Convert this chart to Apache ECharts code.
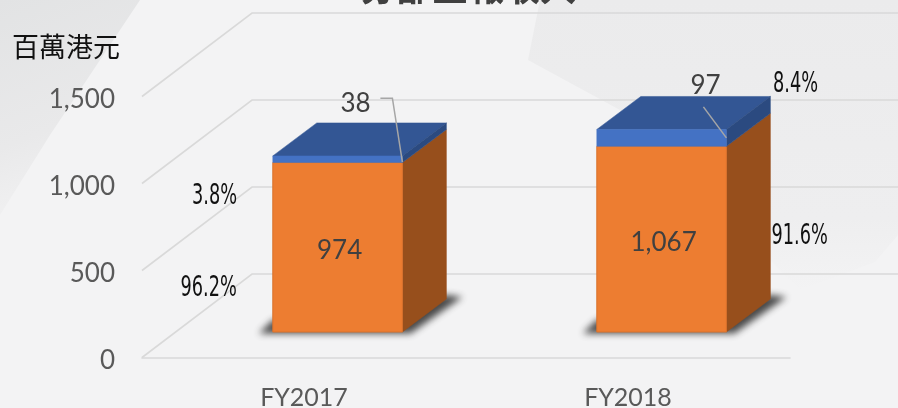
<!DOCTYPE html>
<html>
<head>
<meta charset="utf-8">
<title>分部呈報收入</title>
<style>
    html,body{margin:0;padding:0;background:#f3f3f4;}
    #main{width:898px;height:408px;overflow:hidden;}
</style>
<script src="https://cdn.jsdelivr.net/npm/echarts@6/dist/echarts.min.js"></script>
</head>
<body>
<div id="main"></div>
<script>
var categories = ['FY2017','FY2018'];
var lowerValues = [974,1067];
var upperValues = [38,97];
var lowerShares = ['96.2%','91.6%'];
var upperShares = ['3.8%','8.4%'];
var gridTicks = [0,500,1000,1500];

// label placement, relative to the face it belongs to
var lowerShareOffset = [[-129,41],[138,-3]];
var upperShareOffset = [[-123,37],[134,-53]];
var upperValueOffset = [[-47,-56],[-21,-52]];
var leaderOffset = [[[-22,-61],[-10,-61],[0,3]],[[-23,-31],[0,0]]];

(function(){
    var myChart = echarts.init(document.getElementById('main'));

    var numFont = 'Lato, "Open Sans", sans-serif';
    var shareFont = '"Liberation Sans Narrow", "DejaVu Sans Condensed", sans-serif';

    // perspective of the 3D floor
    var wallDepth = [110,-83.5];
    var barInset = [33.6,-25.5];
    var barDepth = [44,-33];
    var barBand = 0.4;
    // the shadow shape is drawn off canvas so only its blur lands on the chart
    var shadowShift = 1500;

    function poly(points, fill, stroke){
        return {
            type:'polygon',
            shape:{points:points},
            style:{fill:fill, stroke:stroke || fill, lineWidth:stroke ? 1 : 0.5}
        };
    }

    function shareText(text, x, y){
        return {
            type:'text',
            x:x, y:y,
            scaleX:0.68,
            style:{
                text:text,
                align:'center',
                verticalAlign:'middle',
                fill:'#111',
                font:'29px ' + shareFont
            }
        };
    }

    function renderWall(params, api){
        var y = api.coord([0, api.value(0)])[1];
        var x0 = params.coordSys.x;
        var x1 = x0 + params.coordSys.width;
        var style = {stroke:'#d9d9d9', lineWidth:1.6, fill:null};
        return {
            type:'polyline',
            shape:{points:[[x0,y],[x0+wallDepth[0],y+wallDepth[1]],[x1+wallDepth[0],y+wallDepth[1]]]},
            style:style
        };
    }

    // returns the corners of one stacked block
    function blockGeom(api){
        var i = api.value(0);
        var bottom = api.coord([i, api.value(1)]);
        var top = api.coord([i, api.value(2)]);
        var half = api.size([1,0])[0] * barBand / 2;
        var cx = bottom[0] + barInset[0];
        return {
            l:cx-half, r:cx+half,
            t:top[1]+barInset[1], b:bottom[1]+barInset[1],
            cx:cx
        };
    }

    function renderShadow(params, api){
        var g = blockGeom(api);
        var s = shadowShift;
        return {
            type:'polygon',
            shape:{points:[[g.l-14-s,g.b+1.5],[g.r+8-s,g.b+1.5],[g.r+60-s,g.b-35],[g.r+44-s,g.b-37],[g.l-s,g.b-12]]},
            style:{fill:'#000', shadowBlur:7, shadowOffsetX:s, shadowColor:'rgba(30,30,30,0.8)'}
        };
    }

    function renderLower(params, api){
        var g = blockGeom(api);
        var i = api.value(0);
        var my = (g.t+g.b)/2;
        return {
            type:'group',
            children:[
                poly([[g.r,g.t],[g.r+barDepth[0],g.t+barDepth[1]],[g.r+barDepth[0],g.b+barDepth[1]],[g.r,g.b]], '#974f1c'),
                poly([[g.l,g.t],[g.r,g.t],[g.r,g.b],[g.l,g.b]], '#ed7d31', '#d9722c'),
                {type:'text', x:g.cx+2, y:my+3, style:{
                    text:echarts.format.addCommas(api.value(2)-api.value(1)),
                    align:'center', verticalAlign:'middle', fill:'#404040', font:'26px ' + numFont
                }},
                shareText(lowerShares[i], g.cx+lowerShareOffset[i][0], my+lowerShareOffset[i][1])
            ]
        };
    }

    function renderUpper(params, api){
        var g = blockGeom(api);
        var i = api.value(0);
        var my = (g.t+g.b)/2;
        var anchor = [g.r, my];
        var leader = leaderOffset[i].map(function(p){
            return [anchor[0]+p[0], anchor[1]+p[1]];
        });
        return {
            type:'group',
            children:[
                poly([[g.l,g.t],[g.r,g.t],[g.r+barDepth[0],g.t+barDepth[1]],[g.l+barDepth[0],g.t+barDepth[1]]], '#335694'),
                poly([[g.r,g.t],[g.r+barDepth[0],g.t+barDepth[1]],[g.r+barDepth[0],g.b+barDepth[1]],[g.r,g.b]], '#2b4a80'),
                poly([[g.l,g.t],[g.r,g.t],[g.r,g.b],[g.l,g.b]], '#4472c4'),
                {type:'polyline', shape:{points:leader}, style:{stroke:'#a6a6a6', lineWidth:1.5, fill:null}},
                {type:'text', x:g.cx+upperValueOffset[i][0]+65, y:my+upperValueOffset[i][1], style:{
                    text:String(api.value(2)-api.value(1)),
                    align:'center', verticalAlign:'middle', fill:'#404040', font:'26px ' + numFont
                }},
                shareText(upperShares[i], g.cx+upperShareOffset[i][0], my+upperShareOffset[i][1])
            ]
        };
    }

    var lowerData = lowerValues.map(function(v,i){ return [i,0,v]; });
    var upperData = upperValues.map(function(v,i){ return [i,lowerValues[i],lowerValues[i]+v]; });

    var option = {
        animation:false,
        backgroundColor:'#f3f3f4',
        graphic:[
            {type:'polygon', z:-10, silent:true, shape:{points:[[540,0],[898,0],[898,235],[875,262],[800,290],[620,110],[528,60]]}, style:{
                fill:{type:'linear',x:0,y:0,x2:0,y2:1,colorStops:[{offset:0,color:'#ebebec'},{offset:0.75,color:'#eeeeef'},{offset:1,color:'#f3f3f4'}]}
            }},
            {type:'polygon', z:-9, silent:true, shape:{points:[[0,0],[140,0],[50,135],[0,215]]}, style:{
                fill:{type:'linear',x:0,y:0,x2:0.6,y2:1,colorStops:[{offset:0,color:'#e2e3e4'},{offset:0.6,color:'#e9e9ea'},{offset:1,color:'#f3f3f4'}]}
            }},
            {type:'text', z:-5, silent:true, x:468, y:5, style:{
                text:'分部呈報收入', align:'center', verticalAlign:'bottom',
                fill:'#404040', font:'bold 36px "Noto Sans CJK TC"'
            }}
        ],
        grid:{left:142, right:108, top:96.5, bottom:50.5, outerBoundsMode:'none'},
        xAxis:[
            {
                type:'category',
                data:categories,
                axisTick:{show:false},
                axisLine:{show:true, lineStyle:{color:'#d9d9d9', width:1.6}},
                axisLabel:{color:'#595959', fontSize:25, fontFamily:'Lato', margin:28}
            }
        ],
        yAxis:[
            {
                type:'value',
                min:0,
                max:1500,
                interval:500,
                name:'百萬港元',
                nameLocation:'end',
                nameGap:50,
                nameTextStyle:{
                    color:'#111',
                    fontSize:27,
                    fontFamily:'"Noto Sans CJK TC"',
                    align:'right',
                    verticalAlign:'middle',
                    padding:[0,22,0,0]
                },
                axisLine:{show:false},
                axisTick:{show:false},
                splitLine:{show:false},
                axisLabel:{
                    margin:27,
                    formatter:function(v){ return '{t|' + echarts.format.addCommas(v) + '}'; },
                    rich:{
                        t:{color:'#595959', fontSize:26, fontFamily:'Lato', padding:[6,0,0,0]}
                    }
                }
            }
        ],
        series:[
            {name:'wall', type:'custom', silent:true, z:1, data:gridTicks.map(function(t){ return [t]; }), encode:{y:0}, renderItem:renderWall},
            {name:'shadow', type:'custom', silent:true, z:2, data:lowerData, encode:{x:0,y:[1,2]}, renderItem:renderShadow},
            {name:'lower', type:'custom', z:3, data:lowerData, encode:{x:0,y:[1,2]}, renderItem:renderLower},
            {name:'upper', type:'custom', z:4, data:upperData, encode:{x:0,y:[1,2]}, renderItem:renderUpper}
        ]
    };
    myChart.setOption(option);
})();
</script>
</body>
</html>
